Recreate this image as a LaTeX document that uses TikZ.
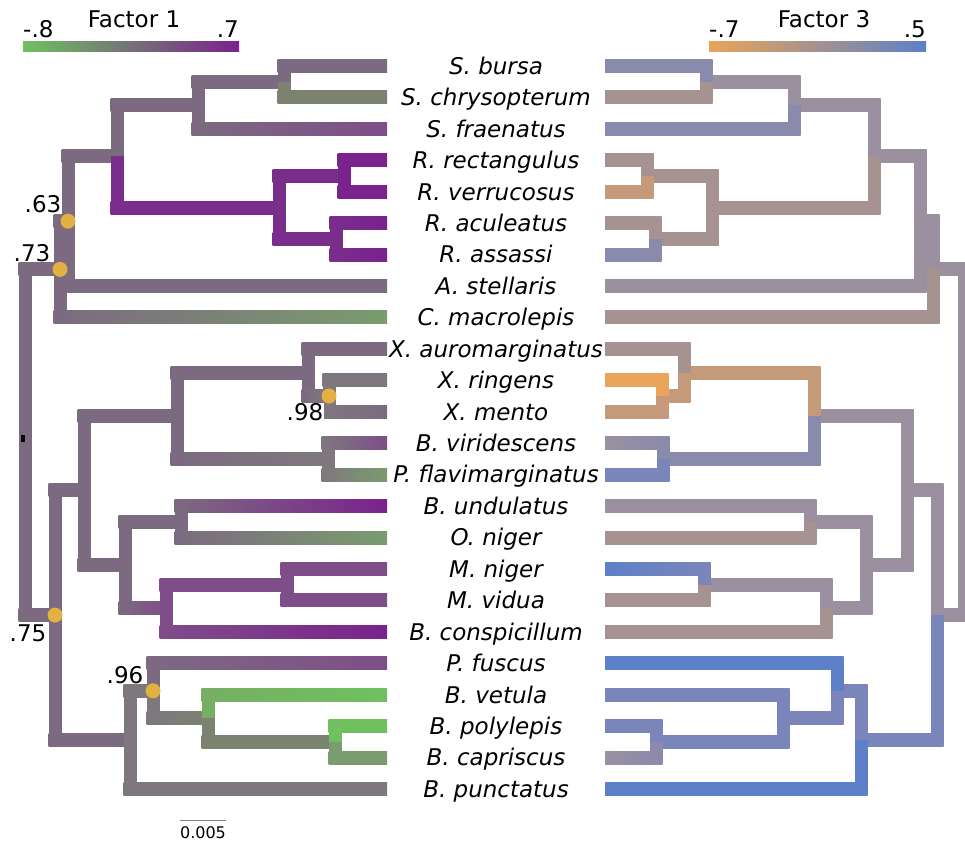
\documentclass[tikz,border=0pt]{standalone}
\usepackage{fontspec}
\setmainfont{DejaVu Sans}
\usepackage{tikz}
\usetikzlibrary{
  calc,
  positioning
}
\definecolor{lgreen}{HTML}{70C060}
\definecolor{lgreenb}{HTML}{76AE64}
\definecolor{lsage}{HTML}{7A9C6E}
\definecolor{lolive}{HTML}{7C8270}
\definecolor{lgray}{HTML}{7E787E}
\definecolor{lmauve}{HTML}{7C6A80}
\definecolor{lplum}{HTML}{7E4E88}
\definecolor{lpurple}{HTML}{7A2E8C}
\definecolor{lviolet}{HTML}{7A228E}
\definecolor{rorange}{HTML}{E8A458}
\definecolor{rtan}{HTML}{C49A7A}
\definecolor{rmauve}{HTML}{A69290}
\definecolor{rgray}{HTML}{9A90A0}
\definecolor{rslate}{HTML}{8A8AAC}
\definecolor{rsteel}{HTML}{7A86BA}
\definecolor{rblue}{HTML}{5E80C8}
\definecolor{dotgold}{HTML}{E3B042}
\definecolor{barmidl}{HTML}{807C80}
\definecolor{barmidr}{HTML}{A0909A}

% elbow branch: parent, child, colour at parent, colour at child
\newcommand\lbranch[4]{%
  \fill[#3] ($(#1)+(-6.5,0)$) rectangle ($(#1|-#2)+(6.5,0)$);
  \shade[left color=#3, right color=#4] ($(#1|-#2)+(-6.5,-6.5)$) rectangle ($(#2)+(0,6.5)$);
}
\newcommand\rbranch[4]{%
  \fill[#3] ($(#1)+(-6.5,0)$) rectangle ($(#1|-#2)+(6.5,0)$);
  \shade[left color=#4, right color=#3] ($(#2)+(0,-6.5)$) rectangle ($(#1|-#2)+(6.5,6.5)$);
}

\begin{document}
\begin{tikzpicture}[
  x=1pt, y=-1pt,
  taxon/.style={
    font=\fontsize{23}{26}\selectfont\itshape,
    anchor=base, inner sep=0pt, yshift=-8.3pt
  },
  support/.style={
    circle, fill=dotgold, inner sep=0pt, minimum size=15pt
  },
  supplabel/.style={
    font=\fontsize{23}{26}\selectfont,
    fill=white, inner sep=0.5pt
  },
  barlabel/.style={
    font=\fontsize{23}{26}\selectfont,
    inner sep=0pt
  }
]
\useasboundingbox (0,0) rectangle (965,845);

% ---- Taxa ----
\foreach \taxname [count=\i from 0] in {S. bursa, S. chrysopterum, S. fraenatus,
  R. rectangulus, R. verrucosus, R. aculeatus, R. assassi, A. stellaris,
  C. macrolepis, X. auromarginatus, X. ringens, X. mento, B. viridescens,
  P. flavimarginatus, B. undulatus, O. niger, M. niger, M. vidua,
  B. conspicillum, P. fuscus, B. vetula, B. polylepis, B. capriscus,
  B. punctatus} {
  \coordinate (a\i) at (387, 66+31.435*\i);
  \coordinate (b\i) at (605, 66+31.435*\i);
  \node[taxon] (n\i) at (496, 66+31.435*\i) {\taxname};
}

% ---- Left tree (Factor 1) ----
\coordinate (L01) at (284, 81.7);
\coordinate (L012) at (198, 105.3);
\coordinate (L34) at (344, 176);
\coordinate (L56) at (336, 238.9);
\coordinate (L3456) at (279, 207.5);
\coordinate (LSR) at (117, 156.4);
\coordinate (LSR7) at (68, 221.2);
\coordinate (LSR78) at (60, 269.4);
\coordinate (Lroot) at (25, 441.3);
\coordinate (L1011) at (329, 396);
\coordinate (L911) at (308, 372.5);
\coordinate (L1213) at (328, 459);
\coordinate (LX) at (177, 415.7);
\coordinate (L1415) at (181, 521.8);
\coordinate (L1617) at (287, 584.7);
\coordinate (L1618) at (166, 608.2);
\coordinate (L1418) at (125, 565);
\coordinate (LX18) at (84, 490.4);
\coordinate (L2122) at (335, 741.9);
\coordinate (L2022) at (208, 718.3);
\coordinate (L1922) at (153, 690.8);
\coordinate (L1923) at (130, 739.9);
\coordinate (LB) at (55, 615.1);

\lbranch{Lroot}{LSR78}{lmauve}{lmauve}
\lbranch{Lroot}{LB}{lmauve}{lmauve}
\lbranch{LSR78}{LSR7}{lmauve}{lmauve}
\lbranch{LSR78}{a8}{lmauve}{lsage}
\lbranch{LSR7}{LSR}{lmauve}{lmauve}
\lbranch{LSR7}{a7}{lmauve}{lmauve}
\lbranch{LSR}{L012}{lmauve}{lmauve}
\lbranch{LSR}{L3456}{lpurple}{lpurple}
\lbranch{L012}{L01}{lmauve}{lmauve}
\lbranch{L012}{a2}{lmauve}{lplum}
\lbranch{L01}{a0}{lmauve}{lmauve}
\lbranch{L01}{a1}{lolive}{lolive}
\lbranch{L3456}{L34}{lpurple}{lpurple}
\lbranch{L3456}{L56}{lpurple}{lpurple}
\lbranch{L34}{a3}{lviolet}{lviolet}
\lbranch{L34}{a4}{lviolet}{lviolet}
\lbranch{L56}{a5}{lpurple}{lviolet}
\lbranch{L56}{a6}{lpurple}{lviolet}

\lbranch{LB}{LX18}{lmauve}{lmauve}
\lbranch{LB}{L1923}{lmauve}{lmauve}
\lbranch{LX18}{LX}{lmauve}{lmauve}
\lbranch{LX18}{L1418}{lmauve}{lmauve}
\lbranch{LX}{L911}{lmauve}{lmauve}
\lbranch{LX}{L1213}{lmauve}{lgray}
\lbranch{L911}{a9}{lmauve}{lmauve}
\lbranch{L911}{L1011}{lmauve}{lgray}
\lbranch{L1011}{a10}{lgray}{lgray}
\lbranch{L1011}{a11}{lgray}{lmauve}
\lbranch{L1213}{a12}{lgray}{lplum}
\lbranch{L1213}{a13}{lgray}{lsage}
\lbranch{L1418}{L1415}{lmauve}{lmauve}
\lbranch{L1418}{L1618}{lmauve}{lplum}
\lbranch{L1415}{a14}{lmauve}{lviolet}
\lbranch{L1415}{a15}{lmauve}{lsage}
\lbranch{L1618}{L1617}{lplum}{lplum}
\lbranch{L1618}{a18}{lplum}{lviolet}
\lbranch{L1617}{a16}{lplum}{lplum}
\lbranch{L1617}{a17}{lplum}{lplum}
\lbranch{L1923}{L1922}{lgray}{lgray}
\lbranch{L1923}{a23}{lgray}{lgray}
\lbranch{L1922}{a19}{lmauve}{lplum}
\lbranch{L1922}{L2022}{lgray}{lolive}
\lbranch{L2022}{a20}{lgreenb}{lgreen}
\lbranch{L2022}{L2122}{lolive}{lolive}
\lbranch{L2122}{a21}{lgreen}{lgreen}
\lbranch{L2122}{a22}{lsage}{lsage}

% root mark
\node[fill=black, inner sep=0pt, minimum width=4pt, minimum height=7pt] (rootmark) at (23, 438.5) {};

% Support values
\node[support] (s63) at (LSR7) {};
\node[support] (s73) at (LSR78) {};
\node[support] (s75) at (LB) {};
\node[support] (s98) at (L1011) {};
\node[support] (s96) at (L1922) {};
\node[supplabel] (t63) at (43, 204) {.63};
\node[supplabel] (t73) at (32, 253) {.73};
\node[supplabel] (t75) at (28, 633) {.75};
\node[supplabel] (t98) at (305, 412) {.98};
\node[supplabel] (t96) at (125, 675) {.96};

% ---- Right tree (Factor 3) ----
\coordinate (R01) at (706, 81.7);
\coordinate (R012) at (794, 105.3);
\coordinate (R34) at (647, 176);
\coordinate (R56) at (655, 238.9);
\coordinate (R3456) at (712, 207.5);
\coordinate (RSR) at (874, 156.4);
\coordinate (RSR7) at (920, 221.2);
\coordinate (RSR78) at (933, 269.4);
\coordinate (Rroot) at (964, 441.3);
\coordinate (R1011) at (662, 396);
\coordinate (R911) at (684, 372.5);
\coordinate (R1213) at (663, 459);
\coordinate (RX) at (814, 415.7);
\coordinate (R1415) at (810, 521.8);
\coordinate (R1617) at (704, 584.7);
\coordinate (R1618) at (826, 608.2);
\coordinate (R1418) at (866, 565);
\coordinate (RX18) at (907, 490.4);
\coordinate (R2122) at (656, 741.9);
\coordinate (R2022) at (783, 718.3);
\coordinate (R1922) at (837, 690.8);
\coordinate (R1923) at (861, 739.9);
\coordinate (RB) at (937, 615.1);

\rbranch{Rroot}{RSR78}{rgray}{rgray}
\rbranch{Rroot}{RB}{rgray}{rgray}
\rbranch{RSR78}{RSR7}{rgray}{rgray}
\rbranch{RSR78}{b8}{rmauve}{rmauve}
\rbranch{RSR7}{RSR}{rgray}{rgray}
\rbranch{RSR7}{b7}{rgray}{rgray}
\rbranch{RSR}{R012}{rgray}{rgray}
\rbranch{RSR}{R3456}{rmauve}{rmauve}
\rbranch{R012}{R01}{rgray}{rgray}
\rbranch{R012}{b2}{rslate}{rslate}
\rbranch{R01}{b0}{rslate}{rslate}
\rbranch{R01}{b1}{rmauve}{rmauve}
\rbranch{R3456}{R34}{rmauve}{rmauve}
\rbranch{R3456}{R56}{rmauve}{rmauve}
\rbranch{R34}{b3}{rmauve}{rmauve}
\rbranch{R34}{b4}{rtan}{rtan}
\rbranch{R56}{b5}{rmauve}{rmauve}
\rbranch{R56}{b6}{rslate}{rslate}

\rbranch{RB}{RX18}{rgray}{rgray}
\rbranch{RB}{R1923}{rsteel}{rsteel}
\rbranch{RX18}{RX}{rgray}{rgray}
\rbranch{RX18}{R1418}{rgray}{rgray}
\rbranch{RX}{R911}{rtan}{rtan}
\rbranch{RX}{R1213}{rslate}{rslate}
\rbranch{R911}{b9}{rmauve}{rmauve}
\rbranch{R911}{R1011}{rtan}{rtan}
\rbranch{R1011}{b10}{rorange}{rorange}
\rbranch{R1011}{b11}{rtan}{rtan}
\rbranch{R1213}{b12}{rslate}{rgray}
\rbranch{R1213}{b13}{rsteel}{rsteel}
\rbranch{R1418}{R1415}{rgray}{rgray}
\rbranch{R1418}{R1618}{rgray}{rgray}
\rbranch{R1415}{b14}{rgray}{rgray}
\rbranch{R1415}{b15}{rmauve}{rmauve}
\rbranch{R1618}{R1617}{rgray}{rgray}
\rbranch{R1618}{b18}{rmauve}{rmauve}
\rbranch{R1617}{b16}{rsteel}{rblue}
\rbranch{R1617}{b17}{rmauve}{rmauve}
\rbranch{R1923}{R1922}{rsteel}{rsteel}
\rbranch{R1923}{b23}{rblue}{rblue}
\rbranch{R1922}{b19}{rblue}{rblue}
\rbranch{R1922}{R2022}{rsteel}{rsteel}
\rbranch{R2022}{b20}{rsteel}{rsteel}
\rbranch{R2022}{R2122}{rsteel}{rsteel}
\rbranch{R2122}{b21}{rsteel}{rsteel}
\rbranch{R2122}{b22}{rslate}{rgray}

% ---- Colour bars ----
\shade[left color=lgreen, middle color=barmidl, right color=lviolet] (23,42) rectangle (239,52);
\node[barlabel, anchor=base west] (f1lo) at (23, 38) {-.8};
\node[barlabel, anchor=base east] (f1hi) at (239, 38) {.7};
\node[barlabel, anchor=base] (f1title) at (134, 28) {Factor 1};

\shade[left color=rorange, middle color=barmidr, right color=rblue] (709,42) rectangle (926,52);
\node[barlabel, anchor=base west] (f3lo) at (709, 38) {-.7};
\node[barlabel, anchor=base east] (f3hi) at (926, 38) {.5};
\node[barlabel, anchor=base] (f3title) at (824, 28) {Factor 3};

% Scale bar
\coordinate (sb1) at (180, 820);
\coordinate (sb2) at (226, 820);
\draw[gray, line width=0.8pt] (sb1) -- (sb2);
\node[font=\fontsize{16}{18}\selectfont, below=3pt of $(sb1)!0.5!(sb2)$] (sblabel) {0.005};

\end{tikzpicture}
\end{document}
